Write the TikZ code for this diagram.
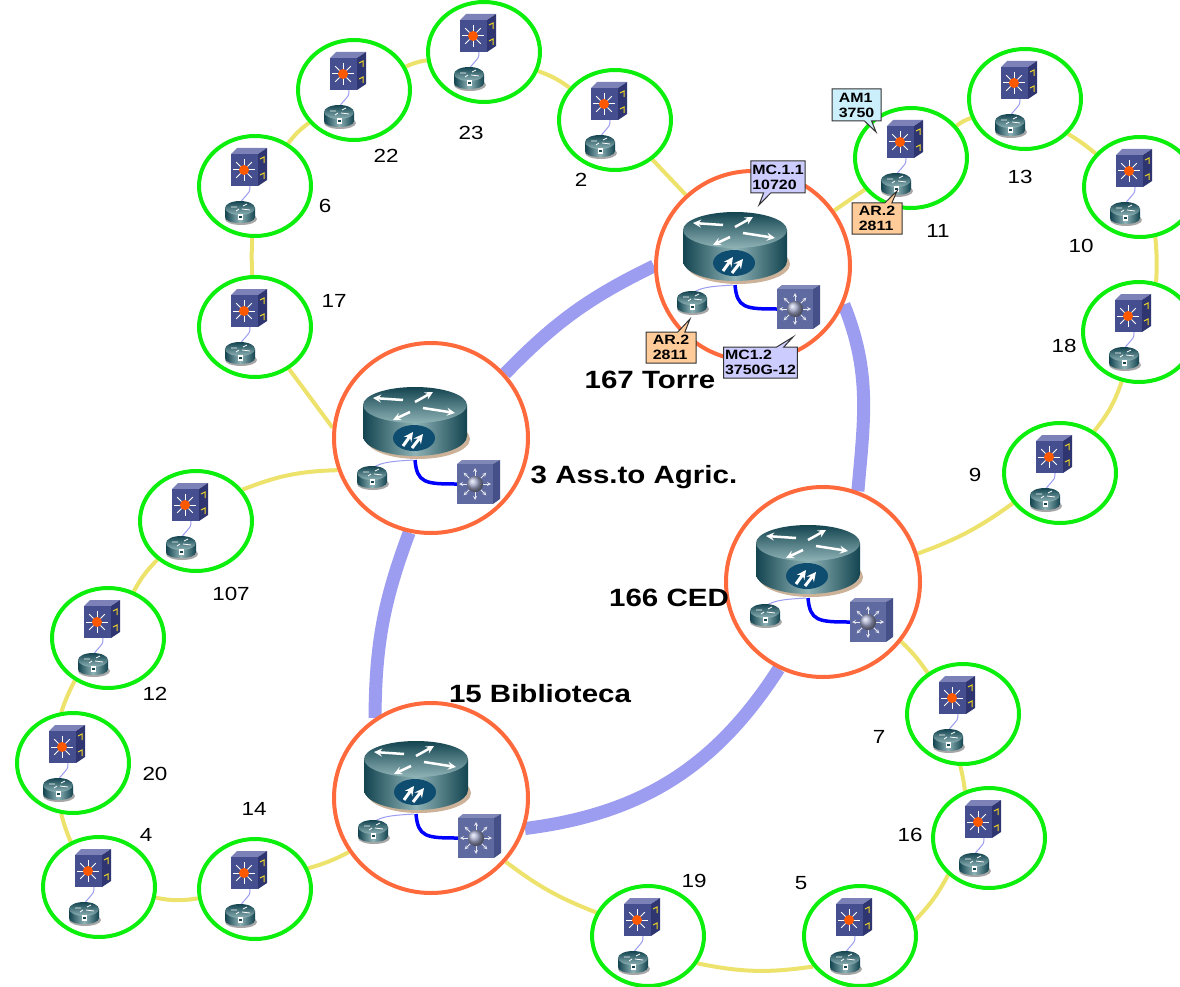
\documentclass[tikz,border=0pt]{standalone}
\usepackage{fontspec}
\setmainfont{Liberation Sans}
\newfontfamily\widefont[FakeStretch=1.18]{Liberation Sans}
\usepackage{xcolor}
\usepackage{tikz}
\usetikzlibrary{arrows,backgrounds}
\usetikzlibrary{shapes}
\usetikzlibrary{calc}
\definecolor{ringgreen}{HTML}{0CEE0C}
\definecolor{ringred}{HTML}{FF6A3C}
\definecolor{linkyellow}{HTML}{EDE36C}
\definecolor{linklilac}{HTML}{9C9CF0}
\definecolor{teal1}{HTML}{134450}
\definecolor{teal2}{HTML}{8FB3B6}
\definecolor{badge}{HTML}{0E4C70}
\definecolor{swfront}{HTML}{454F90}
\definecolor{swtop}{HTML}{7C82B8}
\definecolor{swside}{HTML}{2E3570}
\definecolor{bigfront}{HTML}{5E6AA0}
\definecolor{bigtop}{HTML}{8088B8}
\definecolor{bigside}{HTML}{454F88}
\tikzstyle{sitering}=[ellipse,draw=ringgreen,line width=4pt,inner sep=0pt,minimum width=112pt,minimum height=100pt]
\tikzstyle{corering}=[ellipse,draw=ringred,line width=4pt,inner sep=0pt,minimum width=194pt,minimum height=190pt]
\tikzstyle{yellowlink}=[draw=linkyellow,line width=4pt]
\tikzstyle{lilaclink}=[draw=linklilac,line width=13pt]
\tikzstyle{numlabel}=[font=\widefont\fontsize{19}{19}\selectfont,inner sep=0pt]
\tikzstyle{corelabel}=[font=\widefont\bfseries\fontsize{25}{25}\selectfont,inner sep=0pt]
\tikzstyle{tag}=[rectangle callout,draw=black!80,line width=1pt,font=\widefont\bfseries\fontsize{13.5}{15}\selectfont,align=left,inner sep=1.5pt]
\tikzset{
	smallswitch/.pic={
		\fill[swtop] (-18,-13) -- (-12,-19) -- (18,-19) -- (9,-13) -- cycle;
		\fill[swfront] (-18,-13) rectangle (9,19);
		\fill[swside] (9,-13) -- (18,-19) -- (18,13) -- (9,19) -- cycle;
		\foreach \ang in {0,45,...,315}
			\draw[white,line width=1pt] (-5,3) -- ++(\ang:11);
		\fill[orange!70!red] (-5,3) circle (5);
		\draw[yellow!70!brown,line width=1pt] (11,-8) -- (15,-10) -- (15,-4);
		\draw[yellow!70!brown,line width=1pt] (11,8) -- (15,6) -- (15,12);
	},
	smallrouter/.pic={
		\fill[black!35] (1,7) circle [x radius=16,y radius=6];
		\shade[left color=teal1,right color=teal1,middle color=teal2] (-15,-4) -- (-15,5) .. controls (-15,9) and (-8,11) .. (0,11) .. controls (8,11) and (15,9) .. (15,5) -- (15,-4) -- cycle;
		\shade[top color=teal1,bottom color=teal2] (0,-4) circle [x radius=15,y radius=7];
		\draw[white,line width=.8pt] (-9,-5) -- (-3,-5) (3,-6) -- (7,-8) (-4,-1) -- (-1,-3) (2,-3) -- (10,-2);
		\fill[white] (-2,2) rectangle (3,8);
		\fill[teal1] (-1,4) rectangle (2,6);
	},
	bigrouter/.pic={
		\fill[black!20!brown!50!white] (3,17) circle [x radius=52,y radius=20];
		\shade[left color=teal1,right color=teal1,middle color=teal2] (-52,-17) -- (-52,14) .. controls (-52,25) and (-29,34) .. (0,34) .. controls (29,34) and (52,25) .. (52,14) -- (52,-17) -- cycle;
		\shade[top color=teal1,bottom color=teal2] (0,-17) circle [x radius=52,y radius=18];
		\draw[white,line width=2.5pt,-stealth] (-12,-22) -- (-42,-24);
		\draw[white,line width=2.5pt,-stealth] (0,-20) -- (18,-30);
		\draw[white,line width=2.5pt,-stealth] (-5,-10) -- (-22,-2);
		\draw[white,line width=2.5pt,-stealth] (8,-14) -- (40,-9);
		\fill[badge] (-1,16) circle [x radius=21,y radius=13];
		\draw[white,line width=3pt,-stealth] (-12,24) -- (-2,10);
		\draw[white,line width=3pt,-stealth] (-3,26) -- (8,12);
	},
	bigswitch/.pic={
		\fill[bigtop] (-21,-20) -- (-16,-24) -- (22,-24) -- (15,-20) -- cycle;
		\fill[bigfront] (-21,-20) rectangle (15,20);
		\fill[bigside] (15,-20) -- (22,-24) -- (22,15) -- (15,20) -- cycle;
		\foreach \ang in {0,45,...,315}
			\draw[white!85!bigfront,line width=.8pt,-stealth] (-3,0) -- ++(\ang:16);
		\shade[ball color=bigtop!70!white] (-3,0) circle (8);
	}
}
\begin{document}
\begin{tikzpicture}[x=1pt,y=-1pt]
	\useasboundingbox (0,0) rectangle (1180,987);
	\foreach \id/\xx/\yy in {22/354/90,23/484/52,2/615/120,6/255/186,17/255/327,107/196/521,12/108/638,20/73/763,4/99/887,14/255/889,19/648/936,5/860/936,16/989/838,7/963/714,9/1060/473,18/1139/332,10/1140/187,13/1025/99,11/911/158}
		\node[sitering] (site\id) at (\xx,\yy) {};
	\foreach \id/\xx/\yy in {torre/753/266,agric/431/438,ced/823/582,biblio/431/798}
		\node[corering] (core\id) at (\xx,\yy) {};
	\begin{scope}[on background layer]
		\fill[white] (0,0) rectangle (1180,987);
		\draw[lilaclink] (coreagric.41) to[bend left=10] (coretorre.180);
		\draw[lilaclink] (coretorre.-23) to[out=-68,in=85] (coreced.69);
		\draw[lilaclink] (coreced.-117) to[bend left=25] (corebiblio.-18);
		\draw[lilaclink] (corebiblio.125) to[bend left=10] (coreagric.-103);
		\draw[yellowlink] (coretorre) -- (site2);
		\draw[yellowlink] (site2) to[bend right=8] (site23);
		\draw[yellowlink] (site23) to[bend right=8] (site22);
		\draw[yellowlink] (site22) to[bend right=8] (site6);
		\draw[yellowlink] (site6) to[bend right=3] (site17);
		\draw[yellowlink] (site17.-51) -- (coreagric.174);
		\draw[yellowlink] (coreagric.199) to[bend right=10] (site107.34);
		\draw[yellowlink] (site107) to[bend right=8] (site12);
		\draw[yellowlink] (site12.-128) to[bend right=4] (site20.103);
		\draw[yellowlink] (site20.-103) to[bend right=4] (site4.122);
		\draw[yellowlink] (site4) to[bend right=10] (site14);
		\draw[yellowlink] (site14) to[bend right=6] (corebiblio);
		\draw[yellowlink] (corebiblio) to[bend right=8] (site19);
		\draw[yellowlink] (site19.-29) to[bend right=10] (site5.213);
		\draw[yellowlink] (site5.16) to[bend right=8] (site16.222);
		\draw[yellowlink] (site16.117) to[bend right=3] (site7.-93);
		\draw[yellowlink] (site7) to[bend right=6] (coreced);
		\draw[yellowlink] (coreced) to[bend right=8] (site9);
		\draw[yellowlink] (site9) to[bend right=10] (site18);
		\draw[yellowlink] (site18.71) to[bend right=4] (site10.-73);
		\draw[yellowlink] (site10.143) to[bend right=4] (site13.-39);
		\draw[yellowlink] (site13) to[bend right=8] (site11);
		\draw[yellowlink] (site11) -- (coretorre);
	\end{scope}
	\foreach \id in {22,23,2,6,17,107,12,20,4,14,19,5,16,7,9,18,10,13,11}{
		\draw[linklilac,line width=1pt] ([shift={(-5,0)}]site\id.center) .. controls ([shift={(-4,10)}]site\id.center) and ([shift={(-14,10)}]site\id.center) .. ([shift={(-15,20)}]site\id.center);
		\pic at ([shift={(-6,-19)}]site\id.center) {smallswitch};
		\pic at ([shift={(-15,26)}]site\id.center) {smallrouter};
	}
	\foreach \id/\dx/\dy in {torre/-2/0,agric/0/3,ced/1/-3,biblio/1/-3}{
		\draw[blue,line width=3.5pt] ([shift={(\dx-16,\dy+19)}]core\id.center) .. controls ([shift={(\dx-14,\dy+42)}]core\id.center) and ([shift={(\dx-6,\dy+43)}]core\id.center) .. ([shift={(\dx+26,\dy+43)}]core\id.center);
		\draw[linklilac,line width=1pt] ([shift={(\dx-58,\dy+27)}]core\id.center) .. controls ([shift={(\dx-50,\dy+20)}]core\id.center) and ([shift={(\dx-30,\dy+20)}]core\id.center) .. ([shift={(\dx-18,\dy+19)}]core\id.center);
		\pic at ([shift={(\dx-16,\dy-19)}]core\id.center) {bigrouter};
		\pic at ([shift={(\dx-59,\dy+36)}]core\id.center) {smallrouter};
		\pic at ([shift={(\dx+47,\dy+43)}]core\id.center) {bigswitch};
	}
	\foreach \id/\xx/\yy in {22/386/156,23/471/133,2/581/180,6/325/206,17/334/301,107/231/594,12/155/694,20/155/774,4/146/835,14/254/809,19/694/881,5/801/883,16/910/835,7/879/737,9/975/475,18/1064/346,10/1081/246,13/1020/177,11/938/231}
		\node[numlabel] (num\id) at (\xx,\yy) {\id};
	\node[corelabel] (labtorre) at (650,380) {167 Torre};
	\node[corelabel] (labagric) at (634,477) {3 Ass.to Agric.};
	\node[corelabel] (labced) at (669,598) {166 CED};
	\node[corelabel] (labbiblio) at (540,694) {15 Biblioteca};
	\node[tag,fill=cyan!20,minimum width=49pt,minimum height=32pt,callout absolute pointer={(876,132)}] (tagam) at (856.5,105) {AM1\\3750};
	\node[tag,fill=blue!20,minimum width=50pt,minimum height=32pt,callout absolute pointer={(759,205)}] (tagmca) at (778,177) {MC.1.1\\10720};
	\node[tag,fill=orange!40,minimum width=50pt,minimum height=31pt,callout absolute pointer={(897,191)}] (tagarb) at (877,218.5) {AR.2\\2811};
	\node[tag,fill=orange!40,minimum width=50pt,minimum height=31pt,callout absolute pointer={(690,319)}] (tagara) at (671,347.5) {AR.2\\2811};
	\node[tag,fill=blue!20,minimum width=71pt,minimum height=31pt,callout absolute pointer={(793,337)}] (tagmcb) at (760.5,362.5) {MC1.2\\3750G-12};
\end{tikzpicture}
\end{document}
